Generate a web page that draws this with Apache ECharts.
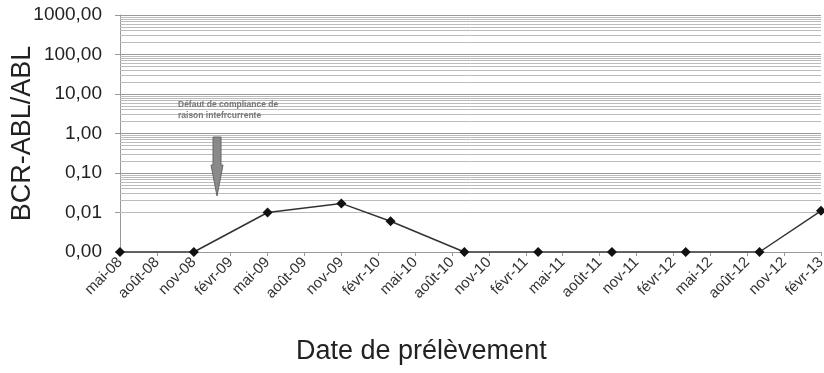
<!DOCTYPE html>
<html><head><meta charset="utf-8">
<script src="https://cdn.jsdelivr.net/npm/echarts@6/dist/echarts.min.js"></script>
<style>html,body{margin:0;padding:0;background:#fff}#c{width:824px;height:373px}</style>
</head><body><div id="c"></div>
<script>
// Data
var startMonth = '2008-05';
var sampleDates = ['2008-05','2008-11','2009-05','2009-11','2010-03','2010-09','2011-03','2011-09','2012-03','2012-09','2013-02'];
var ratioValues = [0.001, 0.001, 0.010, 0.017, 0.006, 0.001, 0.001, 0.001, 0.001, 0.001, 0.011];
var tickLabels = ['mai-08','août-08','nov-08','févr-09','mai-09','août-09','nov-09','févr-10','mai-10','août-10','nov-10','févr-11','mai-11','août-11','nov-11','févr-12','mai-12','août-12','nov-12','févr-13'];
var yMin = 0.001, yMax = 1000;
var annotationText = 'Défaut de compliance de\nraison intefrcurrente';

function monthIndex(s){
  var a = s.split('-'), b = startMonth.split('-');
  return (parseInt(a[0])-parseInt(b[0]))*12 + (parseInt(a[1])-parseInt(b[1]));
}
var seriesData = sampleDates.map(function(d,i){ return [monthIndex(d), ratioValues[i]]; });
var lastIdx = (tickLabels.length-1)*3;

// minor log gridlines (2..9 of each decade)
var minorLines = [];
for (var e = -3; e < 3; e++) {
  for (var m = 2; m <= 9; m++) minorLines.push({yAxis: m*Math.pow(10,e)});
}

var chart = echarts.init(document.getElementById('c'));
chart.setOption({
  animation: false,
  backgroundColor: '#fff',
  grid: {left: 120, right: 3, top: 15, bottom: 121, containLabel: false, outerBoundsMode: 'none'},
  xAxis: {
    type: 'value', min: 0, max: lastIdx, interval: 3,
    axisLine: {show: true, lineStyle: {color: '#999', width: 1}},
    axisTick: {show: true, length: 4, lineStyle: {color: '#999'}},
    splitLine: {show: false},
    axisLabel: {
      rotate: 45, fontSize: 15, color: '#333', fontFamily: 'Liberation Sans, Arial, sans-serif', margin: 8,
      showMinLabel: true, showMaxLabel: true,
      formatter: function(v){ return tickLabels[Math.round(v/3)] || ''; }
    }
  },
  yAxis: {
    type: 'log', logBase: 10, min: yMin, max: yMax,
    name: 'BCR-ABL/ABL', nameLocation: 'middle', nameGap: 84, nameRotate: 90, nameMoveOverlap: false,
    nameTextStyle: {fontSize: 27, color: '#222', fontFamily: 'Liberation Sans, Arial, sans-serif'},
    axisLine: {show: true, lineStyle: {color: '#999'}},
    axisTick: {show: true, length: 5, inside: false, lineStyle: {color: '#999'}},
    splitLine: {show: true, lineStyle: {color: '#999', width: 1.2}},
    axisLabel: {
      fontSize: 19, color: '#222', margin: 18, fontFamily: 'Liberation Sans, Arial, sans-serif',
      formatter: function(v){ return v.toFixed(2).replace('.', ','); }
    }
  },
  series: [
    {
      type: 'line', data: [], silent: true,
      markLine: {
        silent: true, symbol: ['none','none'], animation: false,
        label: {show: false},
        lineStyle: {color: '#bbb', width: 1, type: 'solid'},
        data: minorLines
      }
    },
    {
      type: 'line', data: seriesData, z: 5,
      symbol: 'diamond', symbolSize: 10,
      lineStyle: {color: '#333', width: 1.5},
      itemStyle: {color: '#111'}
    }
  ],
  graphic: [
    {
      type: 'text', left: 178, top: 99, z: 100,
      style: {text: annotationText, fontSize: 8.5, fontWeight: 'bold', fill: '#777', lineHeight: 11, fontFamily: 'Liberation Sans, Arial, sans-serif'}
    },
    {
      type: 'polygon', z: 100,
      shape: {points: [[213,137],[221,137],[221,165],[223,165],[217,196],[211,165],[213,165]]},
      style: {fill: '#8a8a8a', stroke: '#666', lineWidth: 1}
    },
    {
      type: 'text', left: 296, top: 338, z: 100,
      style: {text: 'Date de prélèvement', fontSize: 27, fill: '#222', fontFamily: 'Liberation Sans, Arial, sans-serif'}
    }
  ]
});
</script></body></html>
